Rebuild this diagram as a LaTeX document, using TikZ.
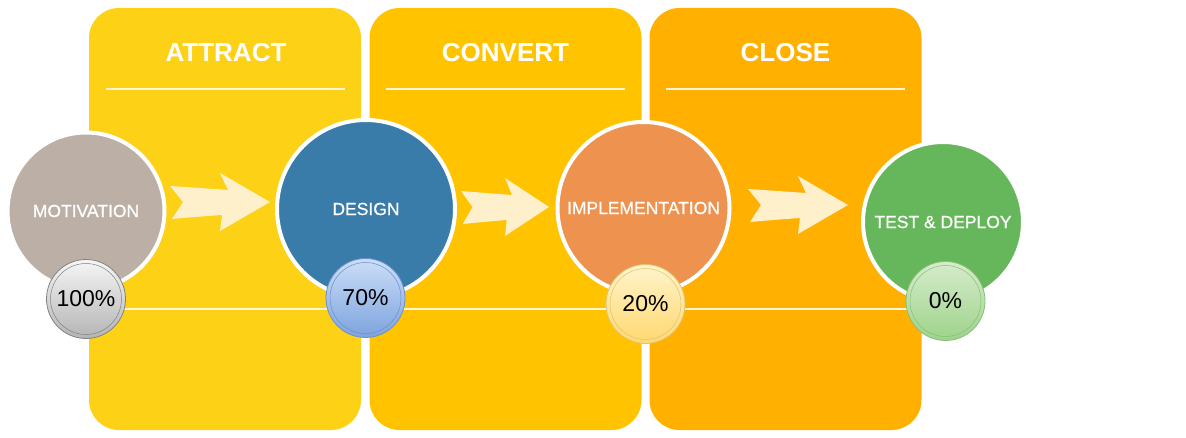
\documentclass[tikz,border=0pt]{standalone}
\usepackage{fontspec}
\setmainfont{Liberation Sans}
\newfontfamily\lblfont{Liberation Sans}[FakeBold=0.7]
\usetikzlibrary{calc}
\definecolor{attractc}{RGB}{252,209,22}
\definecolor{convertc}{RGB}{255,195,0}
\definecolor{closec}{RGB}{255,176,0}
\definecolor{motivc}{RGB}{188,176,166}
\definecolor{designc}{RGB}{58,124,169}
\definecolor{implc}{RGB}{238,146,79}
\definecolor{testc}{RGB}{102,183,91}
\definecolor{arrowc}{RGB}{253,240,202}
\definecolor{linec}{RGB}{255,246,214}
\definecolor{grayedge}{RGB}{130,130,130}
\definecolor{graytop}{RGB}{246,246,246}
\definecolor{graybot}{RGB}{180,180,180}
\definecolor{blueedge}{RGB}{108,143,200}
\definecolor{bluetop}{RGB}{204,222,248}
\definecolor{bluebot}{RGB}{125,163,222}
\definecolor{yeledge}{RGB}{225,195,110}
\definecolor{yeltop}{RGB}{255,244,204}
\definecolor{yelbot}{RGB}{255,216,112}
\definecolor{grnedge}{RGB}{136,190,120}
\definecolor{grntop}{RGB}{214,236,204}
\definecolor{grnbot}{RGB}{158,211,138}
\begin{document}
\begin{tikzpicture}[x=1pt,y=-1pt,
  panel/.style={rectangle, rounded corners=30pt, minimum width=272pt, minimum height=422pt, inner sep=0pt},
  title/.style={text=white, font=\bfseries\fontsize{26}{30}\selectfont, inner sep=0pt},
  hline/.style={draw=linec, line width=2pt},
  big/.style={circle, draw=white, line width=4pt, text=white, inner sep=0pt, font=\lblfont\fontsize{17.5}{20}\selectfont},
  pct/.style={circle, minimum size=79pt, inner sep=0pt, line width=0.8pt, font=\fontsize{23}{26}\selectfont, text=black},
  ring/.style={line width=0.5pt},
  chevron/.pic={\fill[arrowc] (-100,-16) -- (-87,0) -- (-98,17) .. controls (-75,15) .. (-48,13) -- (-50,29) -- (0,0) -- (-50,-29) -- (-42,-12) .. controls (-70,-14) .. (-100,-16) -- cycle;}
]
\useasboundingbox (0,0) rectangle (1186,438);
% panels
\node[panel, fill=attractc] (pA) at (225,219) {};
\node[panel, fill=convertc] (pB) at (505.5,219) {};
\node[panel, fill=closec] (pC) at (785.5,219) {};
% titles
\node[title] (tA) at (226,53) {ATTRACT};
\node[title] (tB) at (505.5,53) {CONVERT};
\node[title] (tC) at (785.5,53) {CLOSE};
% header lines
\draw[hline] (106,89) -- (345,89);
\draw[hline] (386,89) -- (625,89);
\draw[hline] (666,89) -- (905,89);
% chevron arrows
\pic at (270,202) {chevron};
\pic[xscale=0.88] at (549,207) {chevron};
\pic at (848,205) {chevron};
% big circles
\node[big, fill=motivc, minimum size=157pt] (mot) at (86,211) {MOTIVATION};
\node[big, fill=designc, minimum size=178pt] (des) at (366,209) {DESIGN};
\node[big, fill=implc, minimum size=172pt] (imp) at (643.5,208) {IMPLEMENTATION};
\node[big, fill=testc, minimum size=160pt] (tst) at (943,222) {TEST \& DEPLOY};
% lower line
\draw[hline] (89,309) -- (940,309);
% percentage circles
\node[pct, draw=grayedge, top color=graytop, bottom color=graybot] (p1) at (86,299) {100\%};
\node[pct, draw=blueedge, top color=bluetop, bottom color=bluebot] (p2) at (365.5,298) {70\%};
\node[pct, draw=yeledge, top color=yeltop, bottom color=yelbot] (p3) at (645.5,304) {20\%};
\node[pct, draw=grnedge, top color=grntop, bottom color=grnbot] (p4) at (945.5,301) {0\%};
% inner rings
\draw[ring, grayedge] (p1) circle (35.5);
\draw[ring, blueedge] (p2) circle (35.5);
\draw[ring, yeledge] (p3) circle (35.5);
\draw[ring, grnedge] (p4) circle (35.5);
\end{tikzpicture}
\end{document}
